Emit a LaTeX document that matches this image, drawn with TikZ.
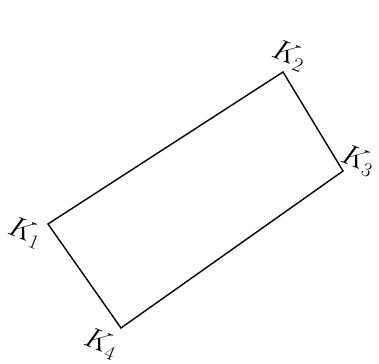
\documentclass[tikz,border=0pt]{standalone}
\begin{document}
\begin{tikzpicture}[x=0.03cm,y=0.03cm]
\tikzset{corner/.style={font=\fontsize{25}{25}\selectfont,rotate=-22,inner sep=0pt}}
\useasboundingbox (0,0) rectangle (379,364);

\coordinate (k1) at (48,140);
\coordinate (k2) at (283,292);
\coordinate (k3) at (343,193);
\coordinate (k4) at (121,36);

\draw[line width=1.2pt,line join=miter] (k1) -- (k2) -- (k3) -- (k4) -- cycle;

\node[corner] (l1) at (25,131) {$K_1$};
\node[corner] (l2) at (289,308) {$K_2$};
\node[corner] (l3) at (358,203) {$K_3$};
\node[corner] (l4) at (101,20) {$K_4$};
\end{tikzpicture}
\end{document}
